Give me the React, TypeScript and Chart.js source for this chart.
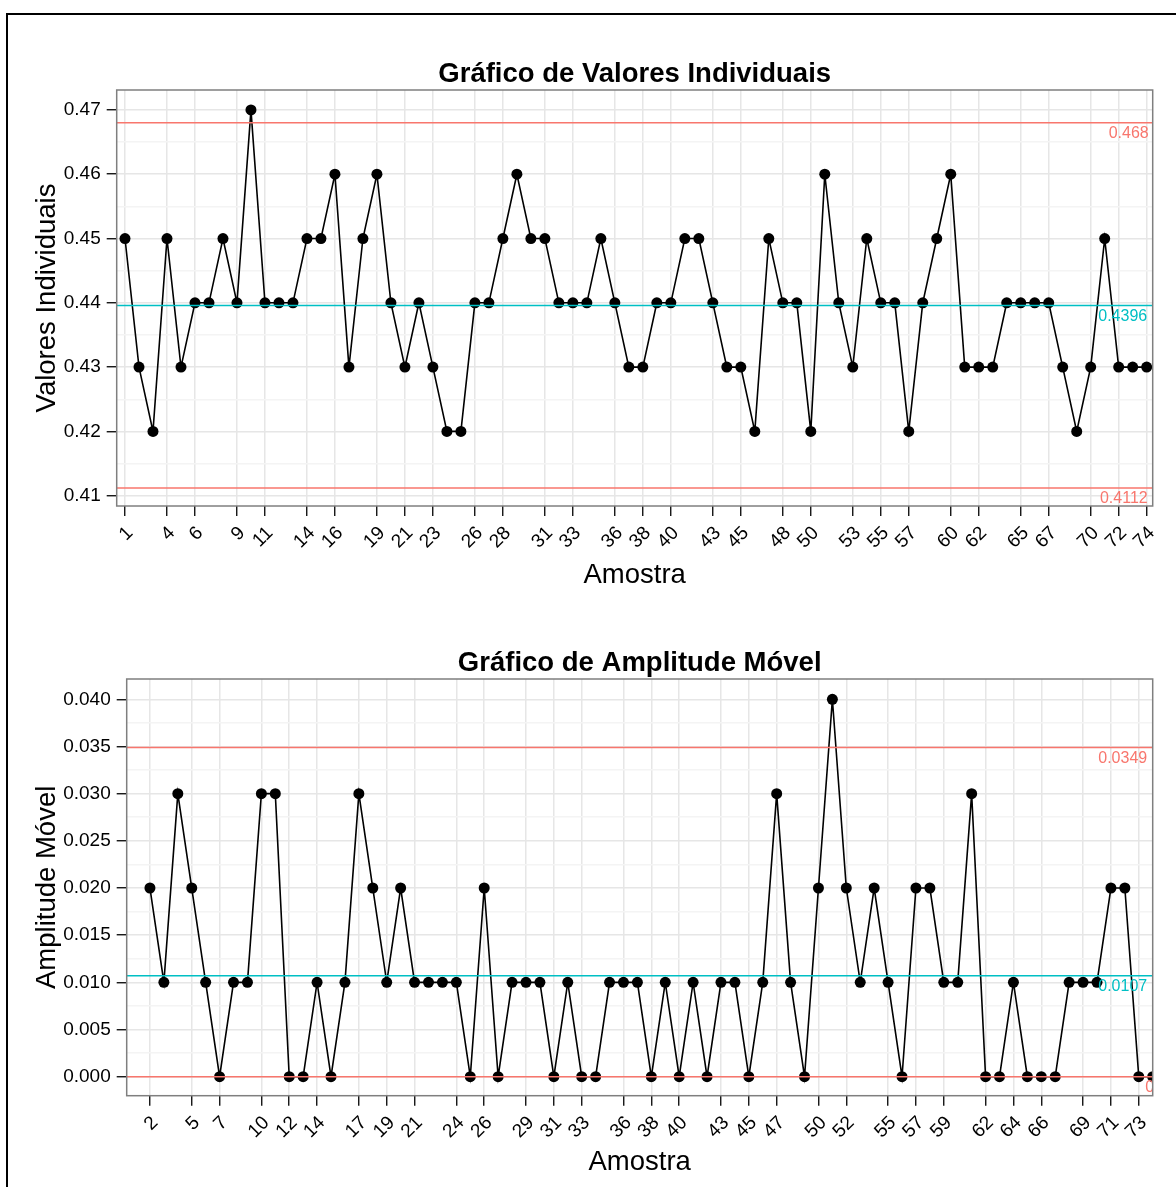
import React, { useEffect, useRef } from "react";
import { Chart, registerables } from "chart.js";

Chart.register(...registerables);

// ---------- data ----------
const individualValues = [
  0.45, 0.43, 0.42, 0.45, 0.43, 0.44, 0.44, 0.45, 0.44, 0.47,
  0.44, 0.44, 0.44, 0.45, 0.45, 0.46, 0.43, 0.45, 0.46, 0.44,
  0.43, 0.44, 0.43, 0.42, 0.42, 0.44, 0.44, 0.45, 0.46, 0.45,
  0.45, 0.44, 0.44, 0.44, 0.45, 0.44, 0.43, 0.43, 0.44, 0.44,
  0.45, 0.45, 0.44, 0.43, 0.43, 0.42, 0.45, 0.44, 0.44, 0.42,
  0.46, 0.44, 0.43, 0.45, 0.44, 0.44, 0.42, 0.44, 0.45, 0.46,
  0.43, 0.43, 0.43, 0.44, 0.44, 0.44, 0.44, 0.43, 0.42, 0.43,
  0.45, 0.43, 0.43, 0.43,
];

// moving ranges for samples 2..74
const movingRanges = [
  0.02, 0.01, 0.03, 0.02, 0.01, 0, 0.01, 0.01, 0.03, 0.03,
  0, 0, 0.01, 0, 0.01, 0.03, 0.02, 0.01, 0.02, 0.01,
  0.01, 0.01, 0.01, 0, 0.02, 0, 0.01, 0.01, 0.01, 0,
  0.01, 0, 0, 0.01, 0.01, 0.01, 0, 0.01, 0, 0.01,
  0, 0.01, 0.01, 0, 0.01, 0.03, 0.01, 0, 0.02, 0.04,
  0.02, 0.01, 0.02, 0.01, 0, 0.02, 0.02, 0.01, 0.01, 0.03,
  0, 0, 0.01, 0, 0, 0, 0.01, 0.01, 0.01, 0.02,
  0.02, 0, 0,
];

const individualFirstSample = 1;
const rangeFirstSample = 2;

const individualXTicks = [1, 4, 6, 9, 11, 14, 16, 19, 21, 23, 26, 28, 31, 33, 36, 38, 40, 43, 45, 48, 50, 53, 55, 57, 60, 62, 65, 67, 70, 72, 74];
const rangeXTicks = [2, 5, 7, 10, 12, 14, 17, 19, 21, 24, 26, 29, 31, 33, 36, 38, 40, 43, 45, 47, 50, 52, 55, 57, 59, 62, 64, 66, 69, 71, 73];

const individualYTicks = [0.41, 0.42, 0.43, 0.44, 0.45, 0.46, 0.47];
const individualYMinorTicks = [0.415, 0.425, 0.435, 0.445, 0.455, 0.465];
const rangeYTicks = [0, 0.005, 0.01, 0.015, 0.02, 0.025, 0.03, 0.035, 0.04];
const rangeYMinorTicks = [0.0025, 0.0075, 0.0125, 0.0175, 0.0225, 0.0275, 0.0325, 0.0375];

// UCL, CL, LCL
const individualLimits = [0.468, 0.4396, 0.4112];
const individualLimitLabels = ["0.468", "0.4396", "0.4112"];
const rangeLimits = [0.0349, 0.0107, 0];
const rangeLimitLabels = ["0.0349", "0.0107", "0"];
const limitColors = ["#F8766D", "#00BFC4", "#F8766D"];

// ---------- styling ----------
const FONT = '"Liberation Sans", Arial, Helvetica, sans-serif';

function makeLimitPlugin(values: number[], labels: string[], rightOffsets: number[]) {
  return {
    id: "limitLabels",
    afterDatasetsDraw(chart: any) {
      const { ctx, chartArea } = chart;
      const y = chart.scales.y;
      ctx.save();
      ctx.beginPath();
      ctx.rect(chartArea.left, chartArea.top, chartArea.right - chartArea.left, chartArea.bottom - chartArea.top);
      ctx.clip();
      ctx.font = `16px ${FONT}`;
      ctx.textAlign = "right";
      ctx.textBaseline = "middle";
      values.forEach((v, i) => {
        ctx.fillStyle = limitColors[i];
        ctx.fillText(labels[i], chartArea.right + rightOffsets[i], y.getPixelForValue(v) + 11);
      });
      ctx.restore();
    },
  };
}

const borderPlugin = {
  id: "panelBorder",
  afterDraw(chart: any) {
    const { ctx, chartArea } = chart;
    ctx.save();
    ctx.strokeStyle = "#7F7F7F";
    ctx.lineWidth = 1.5;
    ctx.strokeRect(chartArea.left, chartArea.top, chartArea.right - chartArea.left, chartArea.bottom - chartArea.top);
    ctx.restore();
  },
};

interface Cfg {
  values: number[];
  firstSample: number;
  xTicks: number[];
  yTicks: number[];
  yMinor: number[];
  limits: number[];
  limitLabels: string[];
  labelOffsets: number[];
  xMin: number;
  xMax: number;
  yMin: number;
  yMax: number;
  title: string;
  yTitle: string;
  decimals: number;
  yAxisWidth: number;
  xAxisHeight: number;
  titlePadTop: number;
  titlePadBottom: number;
}

function buildConfig(c: Cfg): any {
  const limitSets = c.limits.map((L, i) => ({
    type: "line",
    data: [
      { x: c.xMin, y: L },
      { x: c.xMax, y: L },
    ],
    borderColor: limitColors[i],
    borderWidth: 1.5,
    pointRadius: 0,
    order: 0,
    clip: 0,
  }));
  return {
    type: "line",
    data: {
      datasets: [
        ...limitSets,
        {
          data: c.values.map((v, i) => ({ x: i + c.firstSample, y: v })),
          borderColor: "#000",
          borderWidth: 1.6,
          pointRadius: 5.5,
          pointBackgroundColor: "#000",
          pointBorderWidth: 0,
          tension: 0,
          order: 1,
          clip: 0,
        },
      ],
    },
    options: {
      responsive: false,
      animation: false,
      events: [],
      layout: { padding: { left: 0, right: 23.3, top: 0, bottom: 0 } },
      plugins: {
        legend: { display: false },
        tooltip: { enabled: false },
        title: {
          display: true,
          text: c.title,
          fullSize: false,
          color: "#000",
          font: { family: FONT, size: 27.5, weight: "bold" },
          padding: { top: c.titlePadTop, bottom: c.titlePadBottom },
        },
      },
      scales: {
        x: {
          type: "linear",
          min: c.xMin,
          max: c.xMax,
          afterBuildTicks: (scale: any) => {
            scale.ticks = c.xTicks.map((v) => ({ value: v }));
          },
          afterFit: (scale: any) => {
            scale.height = c.xAxisHeight;
          },
          ticks: {
            autoSkip: false,
            minRotation: 45,
            maxRotation: 45,
            color: "#000",
            padding: 6,
            labelOffset: 5,
            font: { family: FONT, size: 19 },
            callback: (v: number) => String(v),
          },
          grid: {
            color: "#E6E6E6",
            lineWidth: 1.5,
            tickColor: "#000",
            tickLength: 10,
            tickWidth: 1.3,
          },
          border: { display: false },
          title: {
            display: true,
            text: "Amostra",
            color: "#000",
            font: { family: FONT, size: 27.5 },
            padding: { top: 0, bottom: 8.5 },
          },
        },
        y: {
          type: "linear",
          min: c.yMin,
          max: c.yMax,
          afterBuildTicks: (scale: any) => {
            scale.ticks = [...c.yTicks, ...c.yMinor].map((v) => ({ value: v }));
          },
          afterFit: (scale: any) => {
            scale.width = c.yAxisWidth;
          },
          ticks: {
            color: "#000",
            padding: 6,
            font: { family: FONT, size: 19 },
            callback: (v: number) => (c.yTicks.includes(v) ? v.toFixed(c.decimals) : ""),
          },
          grid: {
            color: (ctx: any) => (c.yTicks.includes(ctx.tick?.value) ? "#E6E6E6" : "#F4F4F4"),
            lineWidth: 1.5,
            tickColor: (ctx: any) => (c.yTicks.includes(ctx.tick?.value) ? "#000" : "rgba(0,0,0,0)"),
            tickLength: 10,
            tickWidth: 1.3,
          },
          border: { display: false },
          title: {
            display: true,
            text: c.yTitle,
            color: "#000",
            font: { family: FONT, size: 27.5 },
            padding: { top: 30.5, bottom: 0 },
          },
        },
      },
    },
    plugins: [makeLimitPlugin(c.limits, c.limitLabels, c.labelOffsets), borderPlugin],
  };
}

function ChartCanvas({ cfg, top, height }: { cfg: Cfg; top: number; height: number }) {
  const ref = useRef<HTMLCanvasElement | null>(null);
  useEffect(() => {
    if (!ref.current) return;
    const chart = new Chart(ref.current, buildConfig(cfg));
    return () => chart.destroy();
  }, []);
  return (
    <canvas
      ref={ref}
      width={1176}
      height={height}
      style={{ position: "absolute", left: 0, top, width: 1176, height }}
    />
  );
}

const topCfg: Cfg = {
  values: individualValues,
  firstSample: individualFirstSample,
  xTicks: individualXTicks,
  yTicks: individualYTicks,
  yMinor: individualYMinorTicks,
  limits: individualLimits,
  limitLabels: individualLimitLabels,
  labelOffsets: [-4, -5.5, -5],
  xMin: 0.407,
  xMax: 74.43,
  yMin: 0.4084,
  yMax: 0.4731,
  title: "Gráfico de Valores Individuais",
  yTitle: "Valores Individuais",
  decimals: 2,
  yAxisWidth: 116.7,
  xAxisHeight: 94,
  titlePadTop: 58,
  titlePadBottom: -1,
};

const bottomCfg: Cfg = {
  values: movingRanges,
  firstSample: rangeFirstSample,
  xTicks: rangeXTicks,
  yTicks: rangeYTicks,
  yMinor: rangeYMinorTicks,
  limits: rangeLimits,
  limitLabels: rangeLimitLabels,
  labelOffsets: [-5.5, -5.5, 1.5],
  xMin: 0.33,
  xMax: 74.0,
  yMin: -0.00201,
  yMax: 0.04215,
  title: "Gráfico de Amplitude Móvel",
  yTitle: "Amplitude Móvel",
  decimals: 3,
  yAxisWidth: 126.7,
  xAxisHeight: 91.3,
  titlePadTop: 47,
  titlePadBottom: -1,
};

export default function App() {
  return (
    <div
      style={{
        position: "absolute",
        left: 0,
        top: 0,
        width: 1176,
        height: 1187,
        overflow: "hidden",
        background: "#fff",
      }}
    >
      <div
        style={{
          position: "absolute",
          left: 6,
          top: 13,
          width: 1400,
          height: 1400,
          border: "2px solid #000",
        }}
      />
      <ChartCanvas cfg={topCfg} top={0} height={600} />
      <ChartCanvas cfg={bottomCfg} top={600} height={587} />
    </div>
  );
}
